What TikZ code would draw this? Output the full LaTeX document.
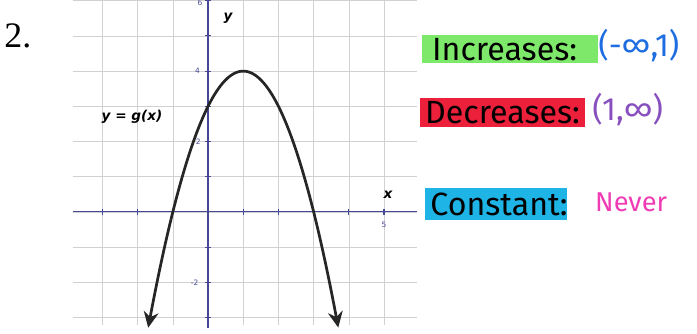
\documentclass[tikz,border=0pt]{standalone}
\usepackage{fontspec}
\usepackage{tikz}
\usetikzlibrary{arrows.meta, positioning}
\setmainfont{Liberation Serif}
\newfontfamily\graphfont{DejaVu Sans}
\newfontfamily\handfont{Fira Sans}
\definecolor{axisblue}{RGB}{70, 72, 150}
\definecolor{hlgreen}{RGB}{125, 232, 105}
\definecolor{hlred}{RGB}{236, 32, 58}
\definecolor{hlcyan}{RGB}{30, 180, 230}
\definecolor{penblue}{RGB}{30, 110, 225}
\definecolor{penpurple}{RGB}{135, 80, 190}
\definecolor{penpink}{RGB}{240, 60, 180}

\begin{document}
\begin{tikzpicture}[
  gridline/.style={black!18, line width=0.5pt},
  axisline/.style={axisblue, line width=0.9pt},
  ticklab/.style={font=\graphfont\fontsize{6}{6}\selectfont, text=axisblue, inner sep=0pt},
  axislab/.style={font=\graphfont\bfseries\itshape\fontsize{11}{11}\selectfont, inner sep=0pt},
  hlbox/.style={inner sep=0pt, draw=none},
  handtext/.style={font=\handfont\fontsize{26}{26}\selectfont, inner sep=0pt, anchor=base west}]
  \useasboundingbox (-5.91,-3.44) rectangle (13.89,6.02);
  % grid and axes
  \draw[gridline] (-3.85,-3.2) grid (5.95,6.1);
  \draw[axisline] (-3.85,0) -- (5.95,0);
  \draw[axisline] (0,-3.3) -- (0,6.1);
  \foreach \i in {-3,...,5} {
    \draw[axisline] (\i,-0.09) -- (\i,0.09);
  }
  \foreach \j in {-3,...,6} {
    \draw[axisline] (-0.09,\j) -- (0.09,\j);
  }
  % tick labels
  \node[ticklab] (t6) at (-0.23,5.93) {6};
  \node[ticklab] (t4) at (-0.3,4) {4};
  \node[ticklab] (t2) at (-0.28,2) {2};
  \node[ticklab] (tm2) at (-0.38,-2) {-2};
  \node[ticklab] (t5) at (5,-0.37) {5};
  \node[axislab] (ylab) at (0.57,5.5) {y};
  \node[axislab] (xlab) at (5.11,0.5) {x};
  \node[axislab] (glab) at (-2.16,2.7) {y = g(x)};
  % the parabola
  \draw[line width=2.2pt, black!85, {Stealth[length=4.5mm, width=4.2mm]}-{Stealth[length=4.5mm, width=4.2mm]}]
    plot[domain=-1.7:3.7, samples=80, smooth] (\x, {-(\x-1)^2+4});
  % problem number
  \node[font=\fontsize{29}{29}\selectfont] (num) at (-5.4,5.0) {2.};
  % highlighted answers
  \node[hlbox, fill=hlgreen, minimum width=5.0cm, minimum height=0.8cm] (incbg) at (8.58,4.63) {};
  \node[hlbox, fill=hlred, minimum width=4.69cm, minimum height=0.83cm] (decbg) at (8.37,2.83) {};
  \node[hlbox, fill=hlcyan, minimum width=4.04cm, minimum height=0.91cm] (conbg) at (8.18,0.23) {};
  \node[handtext] (inc) at (6.36,4.3) {Increases:};
  \node[handtext] (dec) at (6.16,2.5) {Decreases:};
  \node[handtext] (con) at (6.31,-0.1) {Constant:};
  \node[handtext, text=penblue] (incval) at (11.08,4.42) {(-∞,1)};
  \node[handtext, text=penpurple] (decval) at (10.91,2.6) {(1,∞)};
  \node[handtext, text=penpink, font=\handfont\fontsize{22}{22}\selectfont] (conval) at (10.99,0.0) {Never};
\end{tikzpicture}
\end{document}
